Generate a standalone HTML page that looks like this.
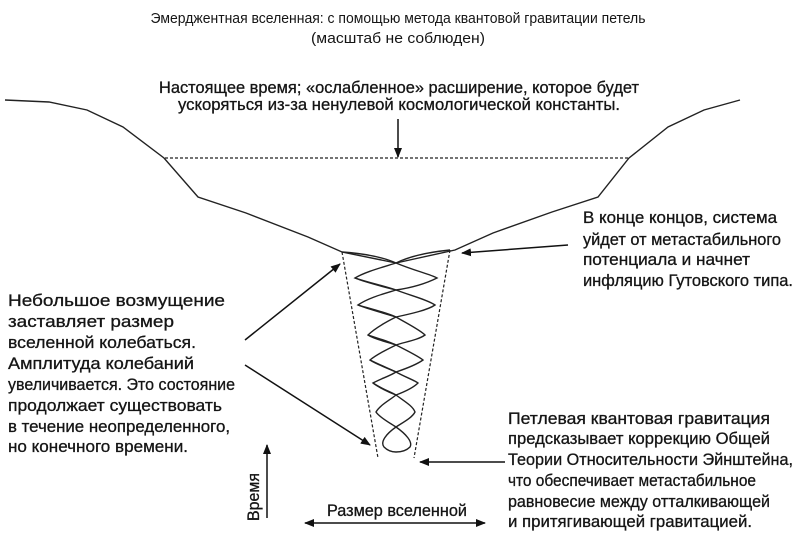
<!DOCTYPE html>
<html><head><meta charset="utf-8"><style>html,body{margin:0;padding:0;background:#fff}svg{display:block}text{font-family:"Liberation Sans",sans-serif;fill:#151515}</style></head>
<body>
<svg width="801" height="554" viewBox="0 0 801 554" xmlns="http://www.w3.org/2000/svg">
<defs><marker id="a" markerWidth="10" markerHeight="8" refX="9" refY="4" orient="auto" markerUnits="userSpaceOnUse"><path d="M0,0 L10,4 L0,8 z" fill="#111"/></marker>
<marker id="b" markerWidth="10" markerHeight="8" refX="1" refY="4" orient="auto" markerUnits="userSpaceOnUse"><path d="M10,0 L0,4 L10,8 z" fill="#111"/></marker></defs>
<g font-size="15">
<text x="398" y="23" text-anchor="middle" textLength="495" lengthAdjust="spacingAndGlyphs">Эмерджентная вселенная: с помощью метода квантовой гравитации петель</text>
<text x="398" y="43" text-anchor="middle" textLength="174" lengthAdjust="spacingAndGlyphs">(масштаб не соблюден)</text>
</g>
<g font-size="16.5" stroke="#151515" stroke-width="0.3">
<text x="159" y="93" textLength="480" lengthAdjust="spacingAndGlyphs">Настоящее время; «ослабленное» расширение, которое будет</text>
<text x="178" y="110" textLength="442" lengthAdjust="spacingAndGlyphs">ускоряться из-за ненулевой космологической константы.</text>
<text x="583" y="223" textLength="194" lengthAdjust="spacingAndGlyphs">В конце концов, система</text>
<text x="583" y="245" textLength="198" lengthAdjust="spacingAndGlyphs">уйдет от метастабильного</text>
<text x="583" y="265" textLength="167" lengthAdjust="spacingAndGlyphs">потенциала  и начнет</text>
<text x="583" y="286" textLength="210" lengthAdjust="spacingAndGlyphs">инфляцию Гутовского типа.</text>
<text x="8" y="306" textLength="217" lengthAdjust="spacingAndGlyphs">Небольшое возмущение</text>
<text x="8" y="327" textLength="166" lengthAdjust="spacingAndGlyphs">заставляет размер</text>
<text x="8" y="348" textLength="188" lengthAdjust="spacingAndGlyphs">вселенной колебаться.</text>
<text x="8" y="369" textLength="186" lengthAdjust="spacingAndGlyphs">Амплитуда колебаний</text>
<text x="8" y="390" textLength="227" lengthAdjust="spacingAndGlyphs">увеличивается. Это состояние</text>
<text x="8" y="411" textLength="214" lengthAdjust="spacingAndGlyphs">продолжает существовать</text>
<text x="8" y="432" textLength="222" lengthAdjust="spacingAndGlyphs">в течение неопределенного,</text>
<text x="8" y="452" textLength="180" lengthAdjust="spacingAndGlyphs">но конечного времени.</text>
<text x="508" y="424" textLength="262" lengthAdjust="spacingAndGlyphs">Петлевая квантовая гравитация</text>
<text x="508" y="444" textLength="262" lengthAdjust="spacingAndGlyphs">предсказывает коррекцию Общей</text>
<text x="508" y="465" textLength="285" lengthAdjust="spacingAndGlyphs">Теории Относительности Эйнштейна,</text>
<text x="508" y="486" textLength="248" lengthAdjust="spacingAndGlyphs">что обеспечивает метастабильное</text>
<text x="508" y="507" textLength="262" lengthAdjust="spacingAndGlyphs">равновесие между отталкивающей</text>
<text x="508" y="527" textLength="244" lengthAdjust="spacingAndGlyphs">и притягивающей гравитацией.</text>
<text x="327" y="516" textLength="140" lengthAdjust="spacingAndGlyphs">Размер вселенной</text>
<text transform="translate(259,497) rotate(-90)" text-anchor="middle" textLength="48" lengthAdjust="spacingAndGlyphs">Время</text>
</g>
<g fill="none" stroke="#222" stroke-width="1.4">
<polyline points="5,100 49,102 87,110 123,127 164,158 198,197 246,213 308,237 342,252 396,263"/>
<polyline points="396,263 455,250 493,233 552,212 598,197 629,158 668,127 704,110 740,100"/>
<path d="M342,252 C370,254 385,258 396,263 C415,271 430,274 437,278 C425,284 410,288 396,290 C380,286 365,282 355,278 C365,272 380,268 396,263 C410,256 430,252 450,250"/>
<path d="M355,278 C370,283 385,286 396,290 C412,296 428,300 435,305 C428,310 410,314 396,317 C383,313 368,309 358,305 C368,298 383,294 396,290"/>
<path d="M358,305 C375,310 388,313 396,317 C408,324 420,330 425,335 C418,340 405,342 396,345 C387,342 374,339 368,335 C375,328 386,322 396,317"/>
<path d="M368,335 C380,339 390,342 396,345 C406,350 418,356 423,360 C416,365 405,369 396,372 C387,368 376,364 370,360 C377,354 388,349 396,345"/>
<path d="M370,360 C380,365 390,369 396,372 C405,377 414,380 418,383 C413,388 404,392 396,395 C388,392 378,387 373,383 C380,379 390,376 396,372"/>
<path d="M373,383 C382,389 391,392 396,395 C404,401 413,406 415,412 C412,418 402,423 396,427 C390,423 379,417 376,412 C380,405 390,400 396,395"/>
<path d="M396,427 C386,434 380,442 384,447 C388,451 393,452 396,452 C400,452 406,451 410,447 C413,442 406,434 396,427"/>
</g>
<g stroke="#222" stroke-width="1.2" stroke-dasharray="3,2" fill="none">
<line x1="342" y1="252" x2="378" y2="458"/>
<line x1="450" y1="250" x2="414" y2="458"/>
<line x1="165" y1="158" x2="630" y2="158"/>
</g>
<g stroke="#111" stroke-width="1.5" fill="none">
<line x1="398" y1="119" x2="398" y2="157" marker-end="url(#a)"/>
<line x1="568" y1="245" x2="462" y2="253" marker-end="url(#a)"/>
<line x1="245" y1="340" x2="340" y2="264" marker-end="url(#a)"/>
<line x1="245" y1="365" x2="370" y2="445" marker-end="url(#a)"/>
<line x1="505" y1="462" x2="420" y2="462" marker-end="url(#a)"/>
<line x1="267" y1="518" x2="267" y2="445" marker-end="url(#a)"/>
<line x1="305" y1="523" x2="485" y2="523" marker-start="url(#b)" marker-end="url(#a)"/>
</g>
</svg>
</body></html>
